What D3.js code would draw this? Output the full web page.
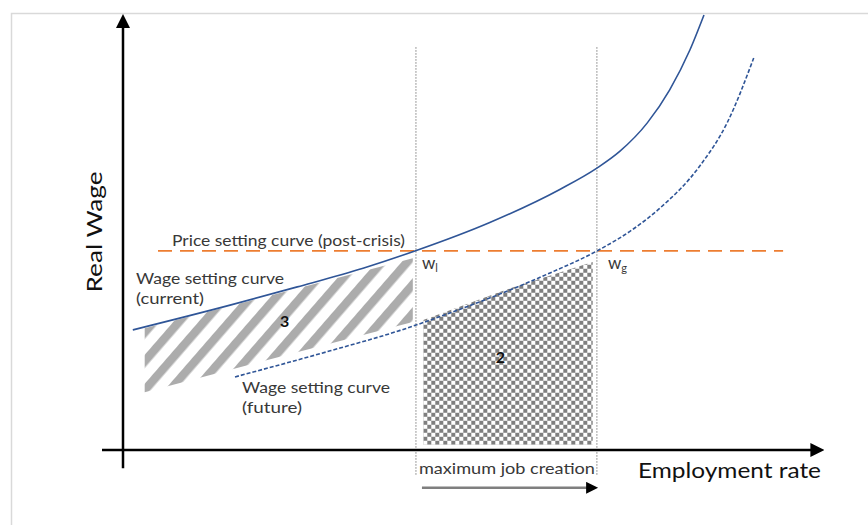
<!DOCTYPE html>
<html>
<head>
<meta charset="utf-8">
<script src="https://cdn.jsdelivr.net/npm/d3@7"></script>
<style>
body { margin: 0; background: #fff; }
svg { display: block; font-family: Lato, "Open Sans", sans-serif; }
</style>
</head>
<body>
<svg id="chart" width="868" height="525"></svg>
<script>
// employment (0-100) vs real wage (0-100)
const currentWage = [[1.4, 27.6], [15.3, 33.3], [24.9, 37.5], [34.3, 41.8], [41.7, 45.75], [52.4, 52.3],
	[62.4, 59.9], [67.7, 64.8], [71.0, 68.7], [74.9, 75.2], [78.1, 82.8], [81.0, 92.0], [83.0, 100]]
const futureWage = [[16.0, 16.8], [29.6, 22.8], [39.6, 27.5], [46.7, 31.5], [53.9, 35.9], [61.0, 40.7],
	[67.7, 45.75], [72.9, 50.8], [76.7, 55.6], [82.4, 65.3], [86.3, 75.2], [90.1, 90.1]]
const priceLevel = 45.75
const priceSpan = [5, 94.3]
const wl = 41.85
const wg = 67.7
const area3 = [[3.1, 28.0], [41.4, 44.1], [41.4, 29.4], [3.1, 13.3]]
const area2 = [[42.9, 29.9], [55, 37.0], [67.1, 43.2], [67.1, 1.2], [42.9, 1.2]]

const priceLabel = 'Price setting curve (post-crisis)'
const currentLabel = ['Wage setting curve', '(current)']
const futureLabel = ['Wage setting curve', '(future)']
const areaLabels = ['3', '2']
const xTitle = 'Employment rate'
const yTitle = 'Real Wage'
const spanLabel = 'maximum job creation'

const blue = '#2f5597'
const orange = '#ed7d31'
const textColor = '#383838'

const svg = d3.select('#chart')
const x = d3.scaleLinear().domain([0, 100]).range([123, 823])
const y = d3.scaleLinear().domain([0, 100]).range([450, 15])

svg.append('rect').attr('x', 11.5).attr('y', 13.5).attr('width', 900).attr('height', 600)
	.attr('fill', 'none').attr('stroke', '#d9d9d9').attr('stroke-width', 1.5)

const defs = svg.append('defs')
const arrow = (id, w, h, color) => defs.append('marker').attr('id', id)
	.attr('viewBox', '0 0 10 10').attr('refX', 4).attr('refY', 5)
	.attr('markerUnits', 'userSpaceOnUse').attr('markerWidth', w).attr('markerHeight', h)
	.attr('orient', 'auto')
	.append('path').attr('d', 'M0,0L10,5L0,10Z').attr('fill', color)
arrow('head', 14, 15, '#000')
arrow('head2', 15, 12, '#000')

const hatch = defs.append('pattern').attr('id', 'hatch')
	.attr('patternUnits', 'userSpaceOnUse').attr('width', 19).attr('height', 20)
	.attr('patternTransform', 'rotate(41)')
hatch.append('rect').attr('width', 8.5).attr('height', 20).attr('fill', '#acacac')

const checker = defs.append('pattern').attr('id', 'checker')
	.attr('patternUnits', 'userSpaceOnUse').attr('width', 8).attr('height', 8)
	.attr('x', x(area2[0][0])).attr('y', y(area2[3][1]))
checker.append('rect').attr('width', 8).attr('height', 8).attr('fill', '#fff')
checker.append('rect').attr('width', 4).attr('height', 4).attr('fill', '#7f7f7f')
checker.append('rect').attr('x', 4).attr('y', 4).attr('width', 4).attr('height', 4).attr('fill', '#7f7f7f')

const area = d3.line().x(d => x(d[0])).y(d => y(d[1]))
svg.append('path').attr('d', area(area3) + 'Z').attr('fill', 'url(#hatch)')
svg.append('path').attr('d', area(area2) + 'Z').attr('fill', 'url(#checker)')

// guides
svg.selectAll('.guide').data([wl, wg]).enter().append('line')
	.attr('x1', d => x(d)).attr('x2', d => x(d))
	.attr('y1', y(92.6)).attr('y2', y(-5.7))
	.attr('stroke', '#7f7f7f').attr('stroke-width', 1).attr('stroke-dasharray', '1.5,1.5')

// axes
svg.append('line').attr('x1', x(-3)).attr('x2', x(99)).attr('y1', y(0)).attr('y2', y(0))
	.attr('stroke', '#000').attr('stroke-width', 2.5).attr('marker-end', 'url(#head)')
svg.append('line').attr('x1', x(0)).attr('x2', x(0)).attr('y1', y(-4.2)).attr('y2', y(98.3))
	.attr('stroke', '#000').attr('stroke-width', 2.5).attr('marker-end', 'url(#head)')

const line = d3.line().x(d => x(d[0])).y(d => y(d[1])).curve(d3.curveMonotoneX)
svg.append('line').attr('x1', x(priceSpan[0])).attr('x2', x(priceSpan[1]))
	.attr('y1', y(priceLevel)).attr('y2', y(priceLevel))
	.attr('stroke', orange).attr('stroke-width', 1.75).attr('stroke-dasharray', '14,8')
svg.append('path').attr('d', line(currentWage)).attr('fill', 'none')
	.attr('stroke', blue).attr('stroke-width', 1.6)
svg.append('path').attr('d', line(futureWage)).attr('fill', 'none')
	.attr('stroke', blue).attr('stroke-width', 1.6).attr('stroke-dasharray', '4,2')

// job creation arrow
svg.append('line').attr('x1', x(wl) + 6).attr('x2', x(wg) - 6)
	.attr('y1', y(-8.7)).attr('y2', y(-8.7))
	.attr('stroke', '#7f7f7f').attr('stroke-width', 2.5).attr('marker-end', 'url(#head2)')

// text
const label = (txt, px, py, size, len, color) => {
	const t = svg.append('text').attr('x', px).attr('y', py).attr('fill', color || textColor)
		.style('font-size', size + 'px').text(txt)
	if (len) t.attr('textLength', len).attr('lengthAdjust', 'spacingAndGlyphs')
	return t
}
label(priceLabel, x(7), y(priceLevel) - 5, 16, 233)
label(currentLabel[0], x(1.86), y(38.2), 16, 148)
label(currentLabel[1], x(1.86), y(38.2) + 20, 16, 68)
label(futureLabel[0], x(17), y(13.1), 16, 148)
label(futureLabel[1], x(17), y(13.1) + 20, 16, 60)
label(spanLabel, x(wl) + 3, y(-5.5), 16, 176)
label(xTitle, 638, y(-6.4), 22, 183, '#111')

svg.append('text').attr('transform', `translate(102, 232) rotate(-90)`)
	.attr('text-anchor', 'middle').attr('fill', '#111')
	.style('font-size', '22px').attr('textLength', 121).attr('lengthAdjust', 'spacingAndGlyphs')
	.text(yTitle)

svg.selectAll('.num').data([[areaLabels[0], 23.1, 28.3], [areaLabels[1], 53.9, 20]])
	.enter().append('text')
	.attr('x', d => x(d[1])).attr('y', d => y(d[2]))
	.attr('text-anchor', 'middle').attr('fill', '#111')
	.style('font-size', '16px').style('font-weight', 'bold')
	.text(d => d[0])

const wLabel = (sub, px) => {
	const t = svg.append('text').attr('x', px).attr('y', y(priceLevel) + 18)
		.attr('fill', textColor).style('font-size', '17px')
	t.append('tspan').text('w')
	t.append('tspan').attr('dy', 3).style('font-size', '11px').text(sub)
}
wLabel('l', x(wl) + 6)
wLabel('g', x(wg) + 11)
</script>
</body>
</html>
